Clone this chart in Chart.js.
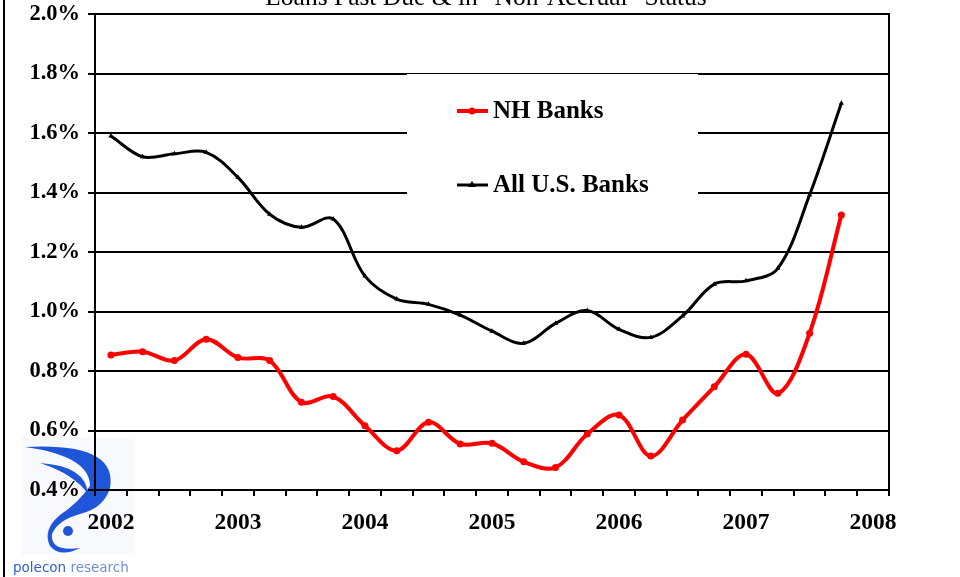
<!DOCTYPE html>
<html>
<head>
<meta charset="utf-8">
<script src="https://cdn.jsdelivr.net/npm/chart.js@4.4.1/dist/chart.umd.min.js"></script>
<style>
  html, body { margin: 0; padding: 0; background: #fff; }
  #wrap { width: 960px; height: 577px; position: relative; }
</style>
</head>
<body>
<div id="wrap"><canvas id="myChart" width="960" height="577"></canvas></div>
<script>
// trimestres, de 2002T1 à 2008T1 (la dernière catégorie reste vide)
const quarters = [
  "2002Q1", "2002Q2", "2002Q3", "2002Q4",
  "2003Q1", "2003Q2", "2003Q3", "2003Q4",
  "2004Q1", "2004Q2", "2004Q3", "2004Q4",
  "2005Q1", "2005Q2", "2005Q3", "2005Q4",
  "2006Q1", "2006Q2", "2006Q3", "2006Q4",
  "2007Q1", "2007Q2", "2007Q3", "2007Q4",
  "2008Q1",
];
// % des prêts en retard / non-accrual
const nhBanks = [
  0.854, 0.865, 0.835, 0.907, 0.845, 0.835, 0.695, 0.714,
  0.616, 0.532, 0.628, 0.555, 0.557, 0.495, 0.476, 0.588,
  0.652, 0.514, 0.635, 0.747, 0.856, 0.725, 0.927, 1.324,
];
const allUSBanks = [
  1.590, 1.520, 1.530, 1.535, 1.451, 1.327, 1.283, 1.311,
  1.119, 1.042, 1.024, 0.988, 0.934, 0.893, 0.960, 1.003,
  0.940, 0.913, 0.985, 1.092, 1.103, 1.145, 1.392, 1.700,
];
const yTicks = [0.4, 0.6, 0.8, 1.0, 1.2, 1.4, 1.6, 1.8, 2.0];

const titre = 'Loans Past Due & in "Non-Accrual" Status';
const serif = "'Liberation Serif', 'Times New Roman', serif";

// logo polecon en bas à gauche + filet gauche
const fondPlugin = {
  id: "fond",
  beforeDraw(chart) {
    const ctx = chart.ctx;
    ctx.save();
    ctx.fillStyle = "#fff";
    ctx.fillRect(0, 0, chart.width, chart.height);

    ctx.fillStyle = "#f8f9fc";
    ctx.fillRect(22, 437, 112, 118);

    ctx.fillStyle = "#1f55d8";
    // grand croissant qui se prolonge en crochet
    ctx.beginPath();
    ctx.moveTo(25, 447);
    ctx.quadraticCurveTo(118, 442, 110, 488);
    ctx.quadraticCurveTo(104, 508, 80, 514);
    ctx.quadraticCurveTo(58, 520, 52, 534);
    ctx.quadraticCurveTo(50, 552, 80, 548);
    ctx.quadraticCurveTo(60, 558, 50, 546);
    ctx.quadraticCurveTo(42, 530, 60, 515);
    ctx.quadraticCurveTo(78, 503, 90, 486);
    ctx.quadraticCurveTo(90, 456, 25, 447);
    ctx.fill();
    // petit croissant intérieur
    ctx.fillStyle = "#f8f9fc";
    ctx.beginPath();
    ctx.moveTo(36, 455);
    ctx.quadraticCurveTo(84, 460, 90, 486);
    ctx.quadraticCurveTo(74, 468, 40, 463);
    ctx.fill();
    ctx.fillStyle = "#1f55d8";
    ctx.beginPath();
    ctx.moveTo(40, 463);
    ctx.quadraticCurveTo(86, 466, 88, 494);
    ctx.quadraticCurveTo(74, 474, 40, 463);
    ctx.fill();
    // point
    ctx.beginPath();
    ctx.arc(68, 531, 5, 0, Math.PI * 2);
    ctx.fill();

    ctx.font = "13.5px 'DejaVu Sans', sans-serif";
    ctx.textBaseline = "alphabetic";
    ctx.fillStyle = "#2e5fd0";
    ctx.fillText("polecon", 13, 572);
    const w = ctx.measureText("polecon ").width;
    ctx.fillStyle = "#6f8fd8";
    ctx.fillText("research", 13 + w, 572);

    ctx.strokeStyle = "#000";
    ctx.lineWidth = 2;
    ctx.beginPath();
    ctx.moveTo(4, 0);
    ctx.lineTo(4, chart.height);
    ctx.stroke();
    ctx.restore();
  },
};

// cadre, légende sur fond blanc, titre coupé en haut
const legendePlugin = {
  id: "legende",
  beforeDatasetsDraw(chart) {
    const ctx = chart.ctx;
    const a = chart.chartArea;
    ctx.save();
    ctx.strokeStyle = "#000";
    ctx.lineWidth = 2;
    ctx.strokeRect(a.left, a.top, a.right - a.left, a.bottom - a.top);

    ctx.fillStyle = "#fff";
    ctx.fillRect(407, 74, 291, 150);

    const items = [
      { ds: chart.data.datasets[0], y: 111 },
      { ds: chart.data.datasets[1], y: 185 },
    ];
    items.forEach((it) => {
      ctx.strokeStyle = it.ds.borderColor;
      ctx.lineWidth = it.ds.borderWidth;
      ctx.beginPath();
      ctx.moveTo(457, it.y);
      ctx.lineTo(488, it.y);
      ctx.stroke();
      ctx.fillStyle = it.ds.borderColor;
      ctx.beginPath();
      if (it.ds.pointStyle === "triangle") {
        ctx.moveTo(472, it.y - 4);
        ctx.lineTo(476, it.y + 2);
        ctx.lineTo(468, it.y + 2);
      } else {
        ctx.arc(472, it.y, 3.5, 0, Math.PI * 2);
      }
      ctx.fill();
      ctx.fillStyle = "#000";
      ctx.font = "bold 25px " + serif;
      ctx.textBaseline = "middle";
      ctx.fillText(it.ds.label, 493, it.y + 1);
    });
    ctx.restore();
  },
  afterDraw(chart) {
    const ctx = chart.ctx;
    ctx.save();
    ctx.fillStyle = "#000";
    ctx.font = "25.5px " + serif;
    ctx.textAlign = "center";
    ctx.textBaseline = "alphabetic";
    ctx.fillText(titre, 486, 5);
    ctx.restore();
  },
};

const data = {
  labels: quarters,
  datasets: [
    {
      label: "NH Banks",
      data: nhBanks,
      borderColor: "#ff0000",
      backgroundColor: "#ff0000",
      borderWidth: 4,
      pointStyle: "circle",
      pointRadius: 3.5,
      pointBorderWidth: 0,
      tension: 0.35,
    },
    {
      label: "All U.S. Banks",
      data: allUSBanks,
      borderColor: "#000000",
      backgroundColor: "#000000",
      borderWidth: 3,
      pointStyle: "triangle",
      pointRadius: 3,
      pointBorderWidth: 0,
      tension: 0.35,
    },
  ],
};

const config = {
  type: "line",
  data: data,
  plugins: [fondPlugin, legendePlugin],
  options: {
    responsive: false,
    animation: false,
    devicePixelRatio: 1,
    layout: { padding: { left: 0, right: 71, top: 14, bottom: 0 } },
    plugins: {
      legend: { display: false },
      title: { display: false },
      tooltip: { enabled: false },
    },
    scales: {
      x: {
        type: "category",
        offset: true,
        afterFit(scale) {
          scale.height = 87;
          scale.paddingLeft = 0;
          scale.paddingRight = 0;
        },
        border: { display: true, color: "#000", width: 2 },
        grid: {
          offset: true,
          drawOnChartArea: false,
          color: "#000",
          lineWidth: 2,
          tickLength: 6,
        },
        ticks: {
          autoSkip: false,
          maxRotation: 0,
          padding: 13,
          color: "#000",
          font: { family: serif, size: 23.5, weight: "bold" },
          callback(value) {
            const q = this.getLabelForValue(value);
            return q.endsWith("Q1") ? q.slice(0, 4) : "";
          },
        },
      },
      y: {
        min: 0.4,
        max: 2.0,
        afterFit(scale) {
          scale.width = 95;
          scale.paddingTop = 0;
          scale.paddingBottom = 0;
        },
        afterBuildTicks(scale) {
          scale.ticks = yTicks.map((v) => ({ value: v }));
        },
        border: { display: true, color: "#000", width: 2 },
        grid: { color: "#000", lineWidth: 2, tickLength: 7 },
        ticks: {
          padding: 8,
          color: "#000",
          font: { family: serif, size: 22.5, weight: "bold" },
          callback: (v) => v.toFixed(1) + "%",
        },
      },
    },
  },
};

const context = document.getElementById("myChart").getContext("2d");
const chart = new Chart(context, config);
</script>
</body>
</html>
